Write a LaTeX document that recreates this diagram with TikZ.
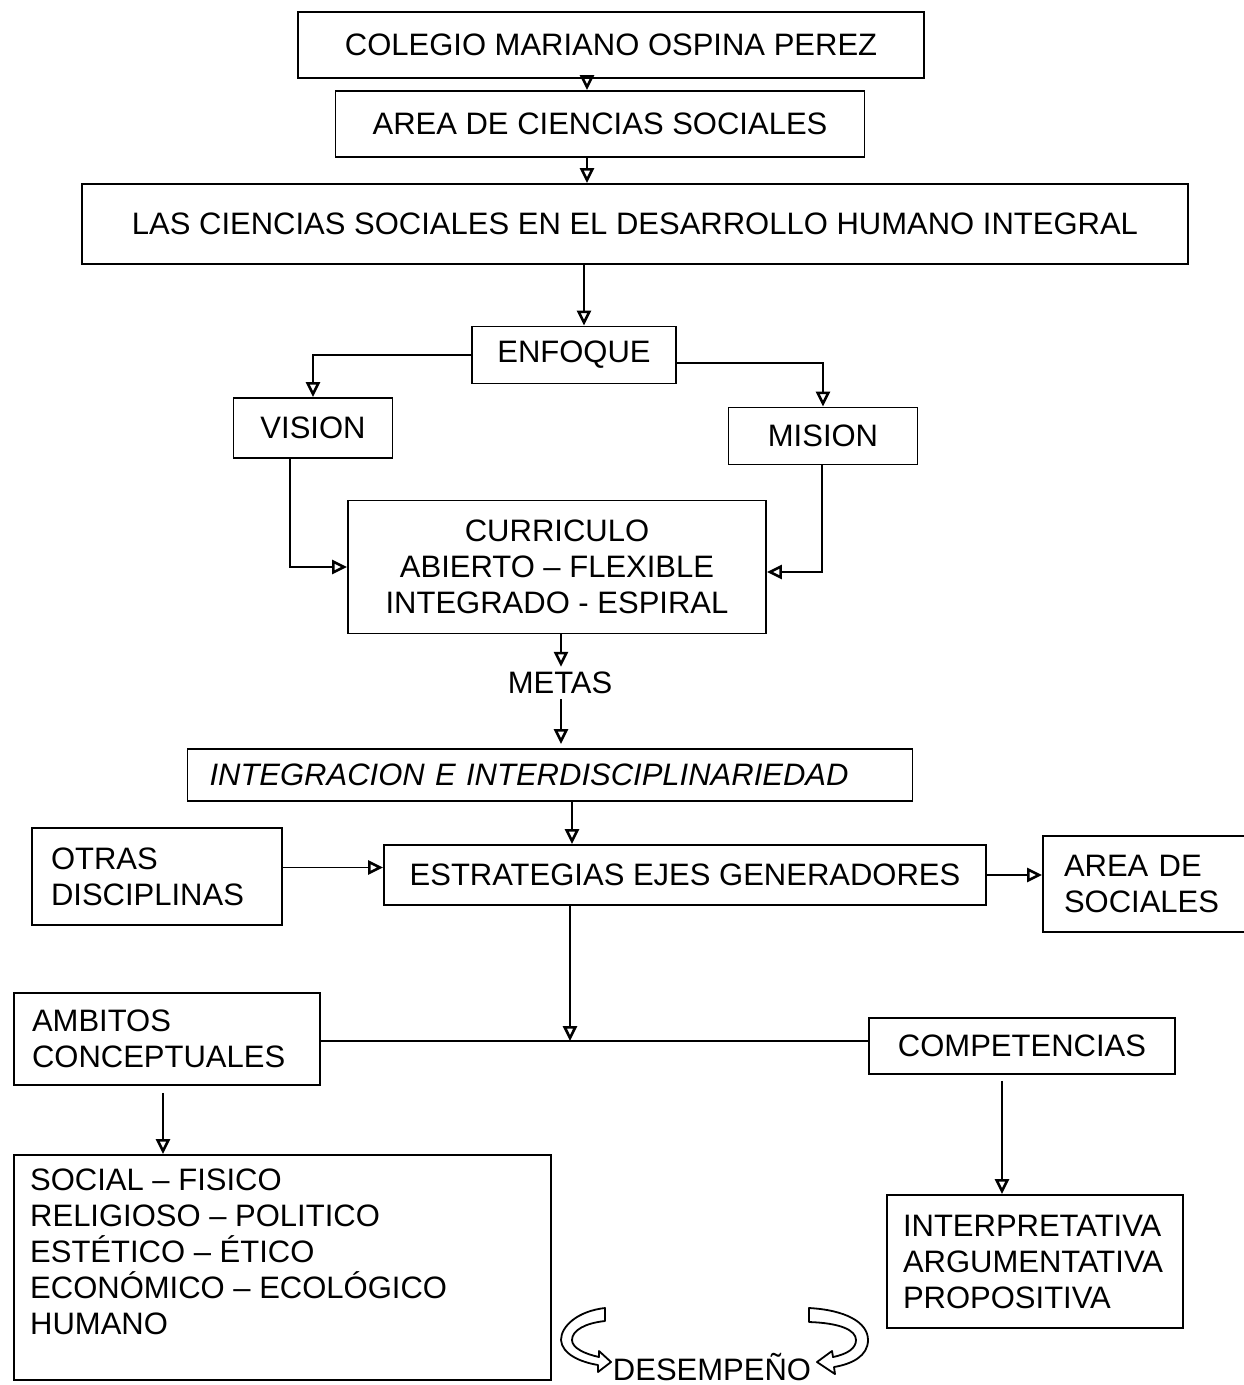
\documentclass[tikz,border=0pt]{standalone}
\usepackage{fontspec}
\setmainfont{Liberation Sans}
\usetikzlibrary{arrows.meta,calc}
\begin{document}
\begin{tikzpicture}[x=1pt,y=-1pt,
  every node/.style={font=\fontsize{31}{36}\selectfont, inner sep=0pt},
  box/.style={draw, line width=1.8pt, rectangle, align=center},
  lbox/.style={draw, line width=1.8pt, rectangle, align=left},
  conn/.style={line width=1.8pt},
  arr/.style={line width=1.8pt, -{Triangle[open, length=15pt, width=14pt, line width=2.6pt]}},
  band/.style={draw, line width=1.8pt, fill=white, line join=round}]
\useasboundingbox (0,0) rectangle (1244,1385);
\fill[white] (0,0) rectangle (1244,1385);

% column helpers
\coordinate (c587) at (587,0);
\coordinate (c584) at (584,0);
\coordinate (c290) at (290,0);
\coordinate (c822) at (822,0);
\coordinate (c561) at (561,0);
\coordinate (c572) at (572,0);
\coordinate (c570) at (570,0);
\coordinate (c163) at (163,0);
\coordinate (c1002) at (1002,0);
\coordinate (j) at (570,1041);

% boxes
\node[box, minimum width=626, minimum height=66] (colegio) at (611,45) {COLEGIO MARIANO OSPINA PEREZ};
\node[box, minimum width=529, minimum height=66] (area) at (600,124) {AREA DE CIENCIAS SOCIALES};
\node[box, minimum width=1106, minimum height=80] (lascs) at (635,224) {LAS CIENCIAS SOCIALES EN EL DESARROLLO HUMANO INTEGRAL};
\node[box, minimum width=204, minimum height=57] (enfoque) at (574,355) {ENFOQUE};
\node[box, minimum width=159, minimum height=60] (vision) at (313,428) {VISION};
\node[box, minimum width=189, minimum height=57] (mision) at (823,436) {MISION};
\node[box, minimum width=418, minimum height=133] (curric) at (557,567) {CURRICULO\\ABIERTO -- FLEXIBLE\\INTEGRADO - ESPIRAL};
\node (metas) at (560,683) {METAS};
\node[box, minimum width=725, minimum height=52, text width=705, inner xsep=10pt, align=left] (integ) at (550,775) {\hspace*{12pt}\itshape INTEGRACION E INTERDISCIPLINARIEDAD};
\node[lbox, minimum width=250, minimum height=97, text width=212, inner xsep=19pt] (otras) at (157,876.5) {OTRAS\\DISCIPLINAS};
\node[box, minimum width=602, minimum height=60] (estrat) at (685,875) {ESTRATEGIAS EJES GENERADORES};
\node[lbox, minimum width=240, minimum height=96, text width=198, inner xsep=21pt] (areasoc) at (1163,884) {AREA DE\\SOCIALES};
\node[lbox, minimum width=306, minimum height=92, text width=270, inner xsep=18pt] (ambitos) at (167,1039) {AMBITOS\\CONCEPTUALES};
\node[box, minimum width=306, minimum height=56] (compet) at (1022,1046) {COMPETENCIAS};
\node[draw, line width=1.8pt, minimum width=537, minimum height=225] (social) at (282.5,1267.5) {};
\node[anchor=north west, align=left] (socialT) at (30,1169) {SOCIAL -- FISICO\\RELIGIOSO -- POLITICO\\ESTÉTICO -- ÉTICO\\ECONÓMICO -- ECOLÓGICO\\HUMANO};
\node[lbox, minimum width=296, minimum height=133, text width=264, inner xsep=16pt] (interp) at (1035,1261.5) {INTERPRETATIVA\\ARGUMENTATIVA\\PROPOSITIVA};
\node[anchor=base] (desemp) at (712,1380) {DESEMPEÑO};

% connectors
\draw[arr] (colegio.south -| c587) -- (area.north -| c587);
\draw[arr] (area.south -| c587) -- (lascs.north -| c587);
\draw[arr] (lascs.south -| c584) -- (enfoque.north -| c584);
\draw[arr] (enfoque.west) -| (vision.north);
\draw[arr] ([yshift=-8pt]enfoque.east) -| (mision.north);
\draw[arr] (vision.south -| c290) |- (curric.west);
\draw[arr] (mision.south -| c822) |- ([yshift=-5pt]curric.east);
\draw[arr] (curric.south -| c561) -- ([yshift=5pt]metas.north -| c561);
\draw[arr] ([yshift=-5pt]metas.south -| c561) -- ([yshift=4pt]integ.north -| c561);
\draw[arr] (integ.south -| c572) -- (estrat.north -| c572);
\draw[arr] ([yshift=9pt]otras.east) -- ([yshift=9pt]otras.east -| estrat.west);
\draw[arr] (estrat.east) -- (estrat.east -| areasoc.west);
\draw[conn] (ambitos.east |- j) -- (compet.west |- j);
\draw[arr] (estrat.south -| c570) -- (j);
\draw[arr] ([yshift=-7pt]ambitos.south -| c163) -- (social.north -| c163);
\draw[arr] ([yshift=-6pt]compet.south -| c1002) -- (interp.north -| c1002);

% curved block arrows around DESEMPENO
\path[band] (605,1308) .. controls (578,1311) and (561,1326) .. (561,1340)
  .. controls (562,1354) and (580,1362) .. (598,1365) -- (598,1372) -- (611,1362) -- (599,1351) -- (599,1357)
  .. controls (585,1354) and (572,1348) .. (572,1340)
  .. controls (572,1330) and (586,1323) .. (605,1321) -- cycle;
\path[band] (809,1308) .. controls (845,1310) and (868,1322) .. (868,1340)
  .. controls (868,1356) and (852,1364) .. (834,1367) -- (835,1374) -- (817,1362) -- (832,1351) -- (833,1357)
  .. controls (848,1354) and (856,1348) .. (856,1340)
  .. controls (856,1330) and (840,1323) .. (809,1322) -- cycle;
\end{tikzpicture}
\end{document}
